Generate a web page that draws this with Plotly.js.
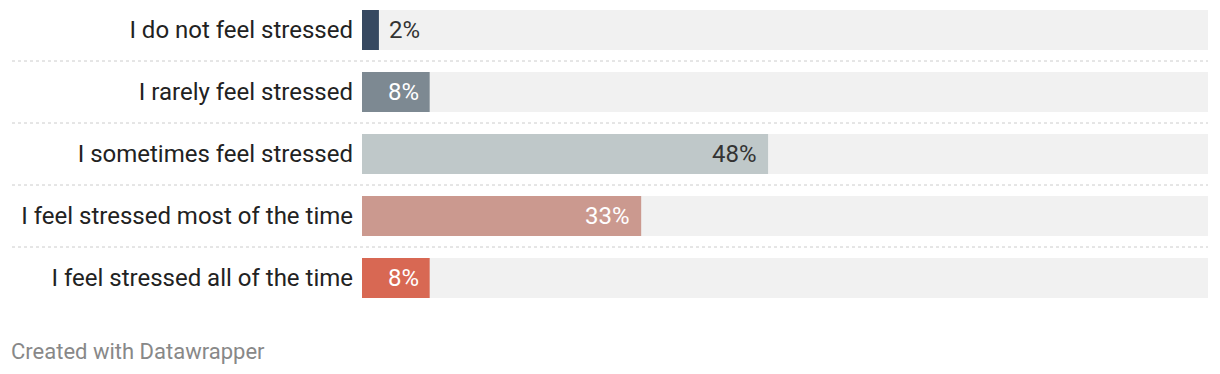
<!DOCTYPE html>
<html>
<head>
<meta charset="utf-8">
<script src="https://cdn.plot.ly/plotly-3.0.1.min.js"></script>
<style>
html,body{margin:0;padding:0;background:#fff;}
#chart{width:1220px;height:374px;}
</style>
</head>
<body>
<div id="chart"></div>
<script>
const categories = [
  "I do not feel stressed",
  "I rarely feel stressed",
  "I sometimes feel stressed",
  "I feel stressed most of the time",
  "I feel stressed all of the time"
];
const values = [2, 8, 48, 33, 8];
const maxValue = 100;

const barColors = ["#364860", "#7d8992", "#bfc8c9", "#cb998f", "#d86853"];
const labelColors = ["#333333", "#ffffff", "#333333", "#ffffff", "#ffffff"];
const labelInside = [false, true, true, true, true];

const idx = categories.map((c, i) => i);

const bg = {
  type: "bar", orientation: "h",
  y: idx, x: categories.map(() => maxValue),
  marker: {color: "#f1f1f1"},
  hoverinfo: "skip", showlegend: false
};
const fg = {
  type: "bar", orientation: "h",
  y: idx, x: values,
  marker: {color: barColors},
  hoverinfo: "skip", showlegend: false
};

const annotations = values.map((v, i) => ({
  x: v, y: i, xref: "x", yref: "y",
  text: v + "%",
  showarrow: false,
  xanchor: labelInside[i] ? "right" : "left",
  xshift: labelInside[i] ? -9 : 8,
  font: {family: "Roboto, sans-serif", size: 24, color: labelColors[i]}
}));

const plotLeft = 362, plotRight = 1208, plotW = plotRight - plotLeft;
const plotH = 310;
annotations.push({
  xref: "paper", yref: "paper",
  x: (9 - plotLeft) / plotW, y: (plotH - 351) / plotH,
  xanchor: "left", yanchor: "middle",
  text: "Created with Datawrapper", showarrow: false,
  font: {family: "Roboto, sans-serif", size: 22, color: "#888888"}
});

const shapes = [];
for (let i = 0; i < categories.length - 1; i++) {
  shapes.push({
    type: "line", xref: "paper", yref: "y",
    x0: (12 - plotLeft) / plotW, x1: 1,
    y0: i + 0.5, y1: i + 0.5,
    line: {color: "#cccccc", width: 1, dash: "dot"}
  });
}

const layout = {
  width: 1220, height: 374,
  margin: {l: plotLeft, r: 1220 - plotRight, t: 0, b: 374 - plotH, pad: 0},
  paper_bgcolor: "#ffffff", plot_bgcolor: "#ffffff",
  barmode: "overlay",
  bargap: 22 / 62,
  xaxis: {range: [0, maxValue], visible: false, fixedrange: true},
  yaxis: {
    range: [4.5161, -0.4839],
    tickmode: "array", tickvals: idx, ticktext: categories,
    ticks: "", showgrid: false, zeroline: false, showline: false,
    ticklabelstandoff: 8,
    tickfont: {family: "Roboto, sans-serif", size: 24, color: "#222222"},
    fixedrange: true
  },
  annotations: annotations,
  shapes: shapes,
  font: {family: "Roboto, sans-serif"}
};

Plotly.newPlot("chart", [bg, fg], layout, {displayModeBar: false, staticPlot: true});
</script>
</body>
</html>
